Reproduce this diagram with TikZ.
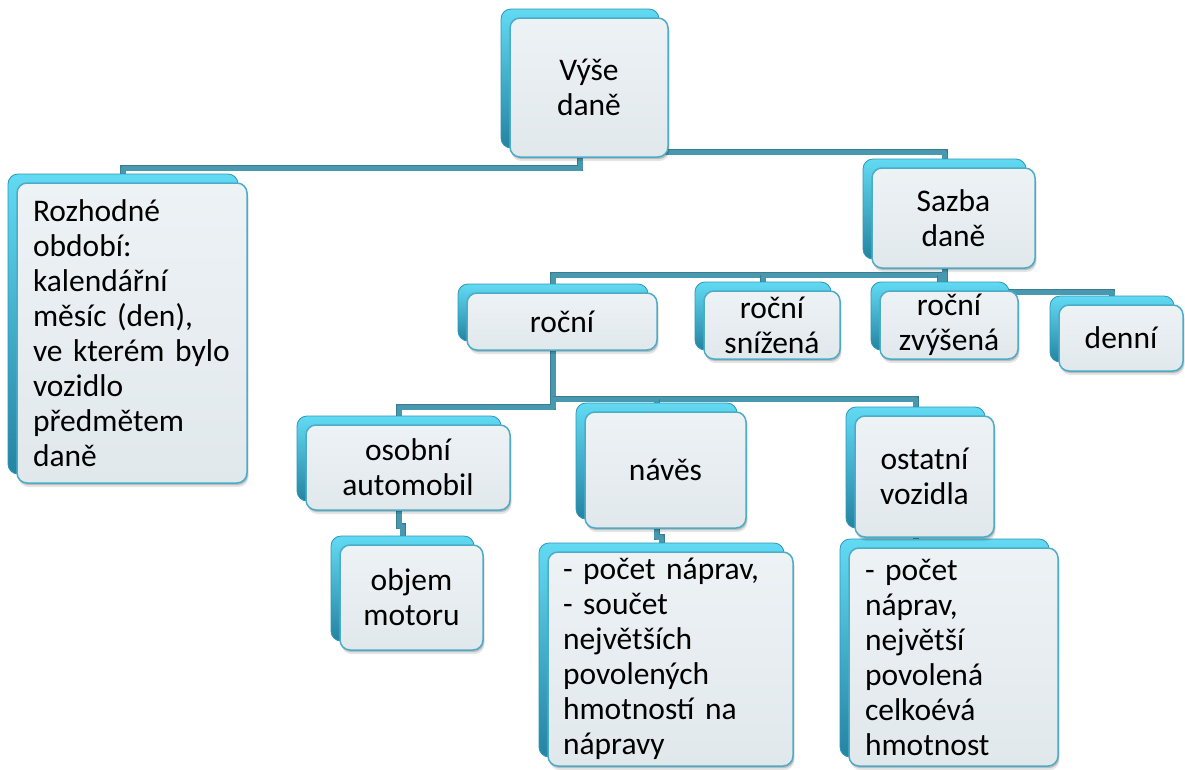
\documentclass[tikz,border=0pt]{standalone}
\usepackage{fontspec}
\setmainfont{Carlito}
\usetikzlibrary{shadows,calc}
\pgfdeclarelayer{bg}
\pgfdeclarelayer{mid}
\pgfsetlayers{bg,mid,main}
\definecolor{connC}{RGB}{72,153,175}
\definecolor{connD}{RGB}{58,125,145}
\definecolor{frontTop}{RGB}{237,242,245}
\definecolor{frontBot}{RGB}{225,232,236}
\definecolor{frontLine}{RGB}{75,172,200}
\definecolor{backTop}{RGB}{98,218,243}
\definecolor{backBot}{RGB}{36,132,162}
\definecolor{backLine}{RGB}{45,150,180}
\tikzset{
  frontbox/.style={draw=frontLine, line width=1.5pt, rounded corners=10pt,
    top color=frontTop, bottom color=frontBot, inner sep=0pt, align=center,
    font=\fontsize{31.5}{35}\selectfont,
    drop shadow={shadow xshift=1pt, shadow yshift=-2pt, opacity=0.18, fill=black},
    drop shadow={shadow xshift=1.5pt, shadow yshift=-4pt, opacity=0.10, fill=black}},
  backbox/.style={draw=backLine, line width=0.8pt, rounded corners=10pt,
    top color=backTop, bottom color=backBot, inner sep=0pt},
  conn/.style={line width=5pt, color=connC, line join=round,
    preaction={draw=connD, line width=6pt}}
}
\newcommand\tbox[7]{%
  \begin{pgfonlayer}{mid}
    \node[backbox, minimum width=#4pt, minimum height=#5pt] (#1B) at (#2-9,#3-9) {};
  \end{pgfonlayer}
  \node[frontbox, minimum width=#4pt, minimum height=#5pt, #6] (#1) at (#2,#3) {#7};}
\begin{document}
\begin{tikzpicture}[x=1pt,y=-1pt]
\useasboundingbox (0,0) rectangle (1185,769);
\tbox{vyse}{589}{87.5}{158}{139}{}{Výše\\daně}
\tbox{rozh}{132}{333}{230}{300}{text width=198pt, align=left}{Rozhodné\\období:\\kalendářní\\měsíc (den),\\ve kterém bylo\\vozidlo\\předmětem\\daně}
\tbox{sazba}{953.5}{218}{163}{100}{}{Sazba\\daně}
\tbox{rocni}{562}{321.5}{190}{57}{}{roční}
\tbox{snizena}{772}{325}{136}{68}{}{roční\\snížená}
\tbox{zvysena}{949}{325}{138}{68}{}{roční\\zvýšená}
\tbox{denni}{1121}{338}{124}{66}{}{denní}
\tbox{osobni}{408}{467.5}{204}{85}{}{osobní\\automobil}
\tbox{objem}{411.5}{597.5}{143}{105}{}{objem\\motoru}
\tbox{naves}{665.5}{470}{161}{116}{}{návěs}
\tbox{navesd}{670.5}{659}{245}{214}{text width=215pt, align=left}{- počet náprav,\\- součet\\největších\\povolených\\hmotností na\\nápravy}
\tbox{ostatni}{924.5}{476.5}{139}{121}{}{ostatní\\vozidla}
\tbox{ostatnid}{953.5}{657}{209}{218}{text width=177pt, align=left}{- počet\\náprav,\\největší\\povolená\\celkoévá\\hmotnost}
\begin{pgfonlayer}{bg}
\draw[conn] (vyseB.center) -- (vyseB.center |- 0,168) -| (rozhB.center);
\draw[conn] (vyseB.center |- 0,152) -| (sazbaB.center);
\draw[conn] (sazbaB.center) -- (sazbaB.center |- 0,275) -| (rocniB.center);
\draw[conn] (snizenaB.center |- 0,275) -- (snizenaB.center);
\draw[conn] (zvysenaB.center |- 0,275) -- (zvysenaB.center);
\draw[conn] (sazbaB.center) -- (sazbaB.center |- 0,292) -| (denniB.center);
\draw[conn] (rocniB.center) -- (rocniB.center |- 0,407) -| (osobniB.center);
\draw[conn] (rocniB.center |- 0,399) -| (ostatniB.center);
\draw[conn] (navesB.center |- 0,399) -- (navesB.center);
\draw[conn] (osobniB.center) -- (osobniB.center |- 0,526) -| (objemB.center);
\draw[conn] (navesB.center) -- (navesB.center |- 0,537) -| (navesdB.center);
\draw[conn] (ostatniB.center) -- (ostatniB.center |- 0,542) -| (ostatnidB.center);
\end{pgfonlayer}
\end{tikzpicture}
\end{document}
